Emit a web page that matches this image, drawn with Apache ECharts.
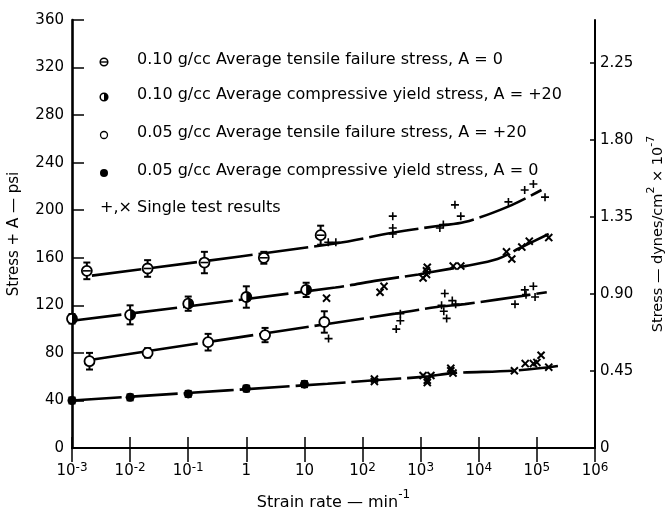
<!DOCTYPE html>
<html><head><meta charset="utf-8">
<script src="https://cdn.jsdelivr.net/npm/echarts@6/dist/echarts.min.js"></script>
<style>html,body{margin:0;padding:0;background:#fff}#c{width:668px;height:512px}</style>
</head><body><div id="c"></div>
<script>
// ---- data (strain rate in min^-1, stress + A in psi) ----
const tensile10X = [0.0018, 0.02, 0.19, 2.0, 19];
const tensile10Y = [149, 151, 156, 160, 179];
const tensile10Err = [7, 7, 9, 5, 8];
const comp10X = [0.001, 0.01, 0.1, 1.0, 10.7];
const comp10Y = [108.7, 112, 121.4, 127, 133];
const comp10Err = [4, 8, 6, 9, 6];
const tensile05X = [0.002, 0.02, 0.22, 2.1, 22];
const tensile05Y = [73, 80, 89, 95, 106];
const tensile05Err = [7, 4, 7, 6, 9];
const comp05X = [0.001, 0.01, 0.1, 1, 10];
const comp05Y = [40, 42.6, 45.5, 50, 53.7];
const comp05Err = [2.5, 2.5, 2.5, 2.5, 2.5];

const fitT10X = [0.0022, 34, 330, 2100, 5700, 32000, 120000];
const fitT10Y = [145, 172, 181, 187, 190, 203, 217];
const fitC10X = [0.001, 34, 186, 912, 1550, 5750, 21000, 50000, 160000];
const fitC10Y = [107, 135, 141, 146, 148, 153, 159, 168, 180];
const fitT05X = [0.0023, 30, 363, 1900, 5750, 148000];
const fitT05Y = [74.5, 105, 113, 118.6, 121, 131];
const fitC05X = [0.001, 25, 160, 1200, 3500, 40000, 230000];
const fitC05Y = [40, 54, 57, 60, 63, 65, 69];

const plusT10X = [25.7, 34.7, 331, 331, 331, 2455, 2138, 3890, 4900, 32360, 61660, 87100, 138000];
const plusT10Y = [173, 173, 195, 185, 180, 188, 185, 204.5, 195, 207, 217, 222, 211];
const crossC10X = [24, 200, 234, 1260, 1260, 1100, 1300, 3630, 4900, 30000, 37000, 55000, 74000, 160000];
const crossC10Y = [126, 131, 136, 149, 146, 143, 152, 153, 153, 165, 159, 169, 174, 177];
const plusT05X = [26, 380, 447, 447, 2290, 2500, 2800, 2600, 3500, 4000, 42000, 62000, 87000, 65000, 93000];
const plusT05Y = [92, 100, 107, 113, 120, 115, 109, 130, 124, 121, 121, 133, 136, 129, 127];
const crossC05X = [160, 160, 1100, 1300, 1300, 1500, 3300, 3600, 3300, 41000, 63000, 87000, 100000, 118000, 160000];
const crossC05Y = [58, 56, 61, 57, 55, 61, 65, 63, 67, 65, 71, 71, 72, 78, 68];

const legendLabels = [
  '0.10 g/cc Average tensile failure stress, A = 0',
  '0.10 g/cc Average compressive yield stress, A = +20',
  '0.05 g/cc Average tensile failure stress, A = +20',
  '0.05 g/cc Average compressive yield stress, A = 0',
  '+,\u00d7 Single test results'
];
const yLeftTicks = [0, 40, 80, 120, 160, 200, 240, 280, 320, 360];
const yRightTicks = [0, 0.45, 0.90, 1.35, 1.80, 2.25];

// ---- helpers ----
const FONT = 'DejaVu Sans';
const zip = (xs, ys) => xs.map((x, i) => [x, ys[i]]);
const zip3 = (xs, ys, es) => xs.map((x, i) => [x, ys[i], es[i]]);
const PLUS = 'path://M4,0L6,0L6,4L10,4L10,6L6,6L6,10L4,10L4,6L0,6L0,4L4,4Z';
const HALF = 'path://M10,0A10,10 0 0 1 10,20Z';

function errSeries(xs, ys, es) {
  return {
    type: 'custom', z: 2, silent: true,
    data: zip3(xs, ys, es),
    renderItem: function (params, api) {
      const x = api.value(0), y = api.value(1), e = api.value(2);
      const t = api.coord([x, y + e]), b = api.coord([x, y - e]);
      const st = {stroke: '#000', lineWidth: 2};
      return {type: 'group', children: [
        {type: 'line', shape: {x1: t[0], y1: t[1], x2: b[0], y2: b[1]}, style: st},
        {type: 'line', shape: {x1: t[0] - 3.5, y1: t[1], x2: t[0] + 3.5, y2: t[1]}, style: st},
        {type: 'line', shape: {x1: b[0] - 3.5, y1: b[1], x2: b[0] + 3.5, y2: b[1]}, style: st}
      ]};
    }
  };
}
function fitLine(xs, ys) {
  return {type: 'line', data: zip(xs, ys), smooth: 0.35, showSymbol: false, z: 1,
    lineStyle: {color: '#000', width: 2.6, type: [50, 6]}};
}
function scatter(xs, ys, symbol, size, opts) {
  const base = {type: 'scatter', data: zip(xs, ys), symbol: symbol, symbolSize: size, z: 3,
    itemStyle: {color: '#000', opacity: 1}};
  if (opts && opts.itemStyle) opts.itemStyle.opacity = 1;
  return Object.assign(base, opts || {});
}
const openStyle = () => ({color: '#fff', borderColor: '#000', borderWidth: 1.8, opacity: 1});

const series = [
  fitLine(fitT10X, fitT10Y), fitLine(fitC10X, fitC10Y), fitLine(fitT05X, fitT05Y), fitLine(fitC05X, fitC05Y),
  errSeries(tensile10X, tensile10Y, tensile10Err),
  errSeries(comp10X, comp10Y, comp10Err),
  errSeries(tensile05X, tensile05Y, tensile05Err),
  errSeries(comp05X, comp05Y, comp05Err),
  // 0.10 tensile: circle with bar
  scatter(tensile10X, tensile10Y, 'circle', 10, {itemStyle: openStyle()}),
  scatter(tensile10X, tensile10Y, 'rect', [8, 1.6], {z: 4}),
  // 0.10 compressive: half filled
  scatter(comp10X, comp10Y, 'circle', 10, {itemStyle: openStyle()}),
  scatter(comp10X, comp10Y, HALF, [5, 10], {z: 4, symbolOffset: [2.5, 0]}),
  // 0.05 tensile: open
  scatter(tensile05X, tensile05Y, 'circle', 10, {itemStyle: openStyle()}),
  // 0.05 compressive: filled
  scatter(comp05X, comp05Y, 'circle', 9),
  // singles
  scatter(plusT10X, plusT10Y, PLUS, 8),
  scatter(crossC10X, crossC10Y, PLUS, 10, {symbolRotate: 45}),
  scatter(plusT05X, plusT05Y, PLUS, 8),
  scatter(crossC05X, crossC05Y, PLUS, 10, {symbolRotate: 45})
];

// ---- legend (graphic) ----
const legY = [62, 97, 135, 173, 210];
const graphic = [];
legendLabels.forEach((t, i) => {
  graphic.push({type: 'text', left: i < 4 ? 137 : 100, top: legY[i] - 10,
    style: {text: t, font: '16px "' + FONT + '"', fill: '#000'}});
});
graphic.push({type: 'circle', shape: {cx: 104, cy: legY[0], r: 3.8}, style: {fill: '#fff', stroke: '#000', lineWidth: 1.5}});
graphic.push({type: 'rect', shape: {x: 100.5, y: legY[0] - 0.7, width: 7, height: 1.4}, style: {fill: '#000'}});
graphic.push({type: 'circle', shape: {cx: 104, cy: legY[1], r: 3.8}, style: {fill: '#fff', stroke: '#000', lineWidth: 1.5}});
graphic.push({type: 'sector', shape: {cx: 104, cy: legY[1], r: 3.8, startAngle: -Math.PI / 2, endAngle: Math.PI / 2}, style: {fill: '#000'}});
graphic.push({type: 'circle', shape: {cx: 104, cy: legY[2], r: 3.5}, style: {fill: '#fff', stroke: '#000', lineWidth: 1.3}});
graphic.push({type: 'circle', shape: {cx: 104, cy: legY[3], r: 4}, style: {fill: '#000'}});

const xFmt = function (v) {
  const e = Math.round(Math.log10(v));
  if (e === 0) return '{b|1}';
  if (e === 1) return '{b|10}';
  return '{b|10}{s|' + e + '}';
};
const richX = {
  b: {fontSize: 15, fontFamily: FONT, color: '#000', verticalAlign: 'bottom', lineHeight: 17},
  s: {fontSize: 12, fontFamily: FONT, color: '#000', verticalAlign: 'top', lineHeight: 12}
};

const chart = echarts.init(document.getElementById('c'), null, {renderer: 'canvas'});
chart.setOption({
  animation: false,
  backgroundColor: '#fff',
  grid: {left: 72, right: 73, top: 20, bottom: 64, outerBoundsMode: 'none', containLabel: false},
  graphic: graphic,
  xAxis: [{
    type: 'log', logBase: 10, min: 0.001, max: 1e6, splitNumber: 9, position: 'bottom',
    axisLine: {lineStyle: {color: '#000', width: 1.8}},
    axisTick: {inside: true, length: 11, lineStyle: {color: '#000', width: 1.5}},
    minorTick: {show: false}, splitLine: {show: false},
    axisLabel: {formatter: xFmt, rich: richX, margin: 14, color: '#000'},
    name: '{n|Strain rate \u2014 min}{s|-1}', nameLocation: 'middle', nameGap: 41,
    nameTextStyle: {fontSize: 16, fontFamily: FONT, color: '#000',
      rich: {s: {fontSize: 12, fontFamily: FONT, color: '#000', verticalAlign: 'top', lineHeight: 12},
             n: {fontSize: 16, fontFamily: FONT, color: '#000', verticalAlign: 'bottom', lineHeight: 22}}}
  }, {
    type: 'log', logBase: 10, min: 0.001, max: 1e6, splitNumber: 9, position: 'top',
    axisLine: {lineStyle: {color: '#000', width: 2}},
    axisTick: {inside: true, length: 14, lineStyle: {color: '#000', width: 1.5}},
    axisLabel: {show: false}, splitLine: {show: false}
  }],
  yAxis: [{
    type: 'value', min: 0, max: 360, interval: 40, position: 'left',
    axisLine: {show: true, lineStyle: {color: '#000', width: 2.6}},
    axisTick: {show: true, inside: true, length: 12, lineStyle: {color: '#000', width: 1.5}},
    splitLine: {show: false},
    axisLabel: {fontSize: 15, fontFamily: FONT, color: '#000', margin: 8},
    name: 'Stress + A \u2014 psi', nameLocation: 'middle', nameGap: 50, nameRotate: 90,
    nameTextStyle: {fontSize: 15, fontFamily: FONT, color: '#000'}
  }, {
    type: 'value', min: 0, max: 2.5, interval: 0.45, position: 'right',
    axisLine: {show: true, lineStyle: {color: '#000', width: 2}},
    axisTick: {show: true, inside: true, length: 5, lineStyle: {color: '#000', width: 1.5}},
    splitLine: {show: false},
    axisLabel: {fontSize: 15, fontFamily: FONT, color: '#000', margin: 5, showMaxLabel: false,
      formatter: v => (v === 0 ? '0' : v.toFixed(2))},
    name: '{n|Stress \u2014 dynes/cm}{s|2}{n| \u00d7 10}{s|-7}', nameLocation: 'middle', nameGap: 51, nameRotate: 90,
    nameTextStyle: {fontSize: 14.5, fontFamily: FONT, color: '#000',
      rich: {s: {fontSize: 11, fontFamily: FONT, color: '#000', verticalAlign: 'top', lineHeight: 11},
             n: {fontSize: 14.5, fontFamily: FONT, color: '#000', verticalAlign: 'bottom', lineHeight: 20}}}
  }],
  series: series
});
</script></body></html>
